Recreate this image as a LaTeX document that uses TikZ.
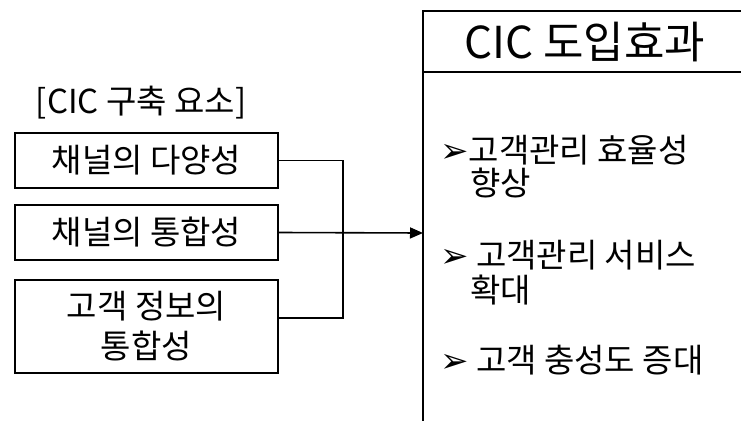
\documentclass[tikz,border=0pt]{standalone}
\usepackage{fontspec}
\setmainfont{Noto Sans CJK KR}
\newfontfamily\symfont{DejaVu Sans}
\usetikzlibrary{arrows.meta}
\tikzset{
  every picture/.style={x=1pt,y=-1pt},
  box/.style={draw,line width=1.8pt,minimum width=263pt,inner sep=0pt,align=center,font=\fontsize{33}{40}\selectfont},
  txt/.style={inner sep=0pt,anchor=west,font=\fontsize{33}{38}\selectfont},
  conn/.style={line width=1.6pt},
}
\newcommand{\bul}{{\symfont\fontsize{34}{36}\selectfont ➢}}
\begin{document}
\begin{tikzpicture}
\useasboundingbox (0,0) rectangle (741,423);
\node[inner sep=0pt,font=\fontsize{33}{38}\selectfont] (title) at (141,103) {[CIC 구축 요소]};
\node[box,minimum height=55pt] (b1) at (146.5,160.5) {채널의 다양성};
\node[box,minimum height=55pt] (b2) at (146.5,232.5) {채널의 통합성};
\node[box,minimum height=93pt] (b3) at (146.5,326.5) {고객 정보의\\통합성};
% right panel
\coordinate (pTL) at (423,11);
\coordinate (pTR) at (741,11);
\coordinate (pHL) at (423,72);
\coordinate (pHR) at (741,72);
\coordinate (pB) at (423,421);
\coordinate (pIn) at (423,233);
\draw[line width=1.8pt] (pTR) -- (pTL) -- (pB);
\draw[line width=1.8pt] (pHL) -- (pHR);
\node[inner sep=0pt,font=\fontsize{44}{50}\selectfont] (head) at (585,42) {CIC 도입효과};
\node[txt] (e1) at (440,150) {\bul 고객관리 효율성};
\node[txt] (e1b) at (470,183) {향상};
\node[txt] (e2) at (440,255) {\bul\ 고객관리 서비스};
\node[txt] (e2b) at (470,290) {확대};
\node[txt] (e3) at (440,360) {\bul\ 고객 충성도 증대};
% connectors
\coordinate (j1) at (343,160.5);
\coordinate (j3) at (343,318);
\draw[conn] (b1.east) -- (j1) -- (j3) -- (b3.east |- j3);
\draw[conn,-{Triangle[length=13pt,width=11pt]}] (b2.east) -- (pIn);
\end{tikzpicture}
\end{document}
